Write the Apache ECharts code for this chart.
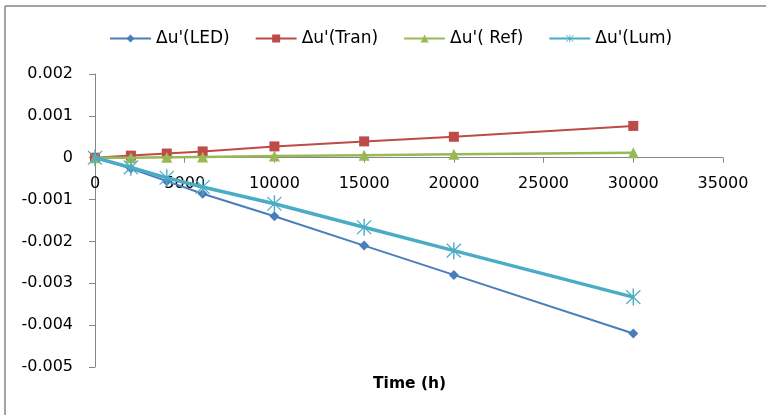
<!DOCTYPE html>
<html><head><meta charset="utf-8">
<script src="https://cdn.jsdelivr.net/npm/echarts@6/dist/echarts.min.js"></script>
<style>html,body{margin:0;padding:0;background:#fff;overflow:hidden}#c{width:766px;height:415px;overflow:hidden}</style>
</head><body><div id="c"></div>
<script>
const hours = [0, 2000, 4000, 6000, 10000, 15000, 20000, 30000];
const ledValues = [0, -0.00026, -0.00056, -0.00086, -0.0014, -0.0021, -0.0028, -0.0042];
const tranValues = [0, 0.00005, 0.0001, 0.00015, 0.00027, 0.00039, 0.0005, 0.00076];
const refValues = [0, 0, 0.00001, 0.00002, 0.00004, 0.00006, 0.00008, 0.00012];
const lumValues = [0, -0.00023, -0.00048, -0.0007, -0.0011, -0.00166, -0.00222, -0.00333];
const seriesNames = ["\u0394u'(LED)", "\u0394u'(Tran)", "\u0394u'( Ref)", "\u0394u'(Lum)"];
const xTitle = 'Time (h)';

const pair = (vals) => hours.map((h, i) => [h, vals[i]]);
const starPath = 'path://M-0.8,-10 L0.8,-10 L0.8,10 L-0.8,10 Z M-7.6,-8.6 L8.6,7.6 L7.6,8.6 L-8.6,-7.6 Z M7.6,-8.6 L8.6,-7.6 L-7.6,8.6 L-8.6,7.6 Z';
const font = 'DejaVu Sans';
const gridTop = 74, gridBottom = 48, H = 415;
const yMin = -0.005, yMax = 0.002;
const plotH = H - gridTop - gridBottom;
const zeroPx = gridTop + plotH * (yMax / (yMax - yMin));
const xOffset = -((H - gridBottom) - zeroPx);

const chart = echarts.init(document.getElementById('c'));
chart.setOption({
  animation: false,
  textStyle: { fontFamily: font },
  graphic: [
    { type: 'line', shape: { x1: 5, y1: 6, x2: 5, y2: 420 }, style: { stroke: '#868686', lineWidth: 1.5 }, silent: true },
    { type: 'line', shape: { x1: 5, y1: 6, x2: 800, y2: 6 }, style: { stroke: '#868686', lineWidth: 1.5 }, silent: true },
    { type: 'text', left: 373, top: 376, style: { text: xTitle, font: 'bold 15.5px "DejaVu Sans"', fill: '#000' } }
  ],
  legend: {
    top: 25, left: 104, itemGap: 25, itemWidth: 41, itemHeight: 10,
    textStyle: { fontFamily: font, fontSize: 17, color: '#000' },
    data: seriesNames
  },
  grid: { left: 95, right: 43, top: gridTop, bottom: gridBottom, containLabel: false, outerBoundsMode: 'none' },
  xAxis: {
    type: 'value', min: 0, max: 35000, interval: 5000,
    position: 'bottom', offset: xOffset,
    axisLine: { onZero: false, lineStyle: { color: '#868686' } },
    axisTick: { show: true, length: 5, lineStyle: { color: '#868686' } },
    axisLabel: { fontSize: 16, color: '#000', margin: 18, formatter: v => String(v) },
    splitLine: { show: false }
  },
  yAxis: {
    type: 'value', min: yMin, max: yMax, interval: 0.001,
    axisLine: { show: true, lineStyle: { color: '#868686' } },
    axisTick: { show: true, length: 6, lineStyle: { color: '#868686' } },
    axisLabel: { fontSize: 16, color: '#000', margin: 22, formatter: v => (Math.round(v * 1000) / 1000).toString() },
    splitLine: { show: false }
  },
  series: [
    { name: seriesNames[0], type: 'line', data: pair(ledValues), symbol: 'diamond', symbolSize: 10,
      lineStyle: { color: '#4A7EBB', width: 2 }, itemStyle: { color: '#4A7EBB' }, z: 2 },
    { name: seriesNames[1], type: 'line', data: pair(tranValues), symbol: 'rect', symbolSize: 10,
      lineStyle: { color: '#BE4B48', width: 2 }, itemStyle: { color: '#BE4B48' }, z: 2 },
    { name: seriesNames[2], type: 'line', data: pair(refValues), symbol: 'triangle', symbolSize: 11,
      lineStyle: { color: '#98B954', width: 2.5 }, itemStyle: { color: '#98B954' }, z: 3 },
    { name: seriesNames[3], type: 'line', data: pair(lumValues), symbol: starPath, symbolSize: [15, 17],
      lineStyle: { color: '#4BACC6', width: 3.5 }, itemStyle: { color: '#4BACC6' }, z: 4 }
  ]
});
</script></body></html>
